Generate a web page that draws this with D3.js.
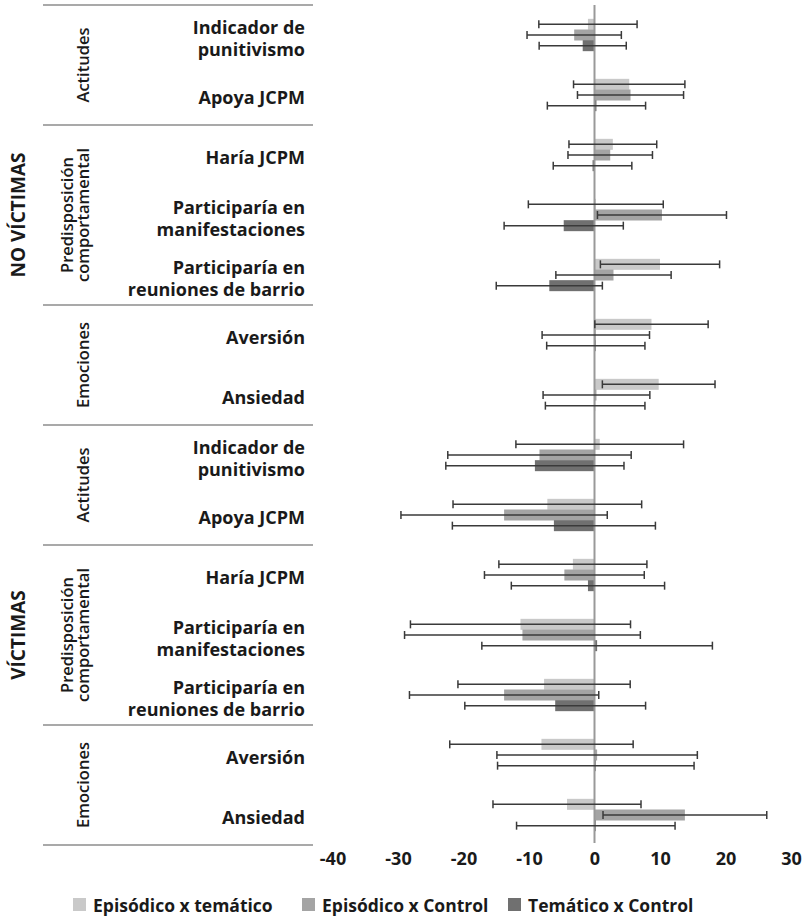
<!DOCTYPE html>
<html>
<head>
<meta charset="utf-8">
<script src="https://cdn.jsdelivr.net/npm/d3@7"></script>
<style>
  html, body { margin: 0; padding: 0; background: #fff; }
  svg { display: block; }
  text { font-family: "Open Sans", "Noto Sans", sans-serif; fill: #1a1a1a; }
</style>
</head>
<body>
<svg id="chart" width="812" height="921"></svg>
<script>
// ---------------- DATA ----------------
const sections = ["NO VÍCTIMAS", "VÍCTIMAS"];
const groups = [
  { name: ["Actitudes"], size: 2 },
  { name: ["Predisposición", "comportamental"], size: 3 },
  { name: ["Emociones"], size: 2 }
];
const itemLabels = [
  ["Indicador de", "punitivismo"],
  ["Apoya JCPM"],
  ["Haría JCPM"],
  ["Participaría en", "manifestaciones"],
  ["Participaría en", "reuniones de barrio"],
  ["Aversión"],
  ["Ansiedad"]
];
const seriesNames = ["Episódico x temático", "Episódico x Control", "Temático x Control"];

// order: NO VÍCTIMAS (7 items) then VÍCTIMAS (7 items)
const episodicoTematico      = [-1.0, 5.3, 2.8, 0.2, 10.0, 8.7, 9.8,   0.8, -7.2, -3.3, -11.3, -7.7, -8.1, -4.2];
const episodicoTematicoErr   = [ 7.5, 8.5, 6.7, 10.3, 9.1, 8.65, 8.6,  12.8, 14.4, 11.3, 16.8, 13.15, 14.0, 11.3];
const episodicoControl       = [-3.1, 5.5, 2.4, 10.3, 2.9, 0.2, 0.3,   -8.4, -13.8, -4.6, -11.0, -13.8, 0.4, 13.8];
const episodicoControlErr    = [ 7.2, 8.1, 6.45, 9.85, 8.8, 8.2, 8.15, 14.0, 15.75, 12.2, 18.0, 14.45, 15.3, 12.5];
const tematicoControl        = [-1.8, 0.3, -0.3, -4.7, -6.9, 0.2, 0.1,  -9.1, -6.2, -1.0, 0.4, -6.0, 0.2, 0.2];
const tematicoControlErr     = [ 6.65, 7.5, 6.0, 9.1, 8.1, 7.5, 7.6,   13.6, 15.5, 11.7, 17.6, 13.8, 15.0, 12.1];

const xTicks = [-40, -30, -20, -10, 0, 10, 20, 30];

// ---------------- BUILD ----------------
const seriesValues = [episodicoTematico, episodicoControl, tematicoControl];
const seriesErrs = [episodicoTematicoErr, episodicoControlErr, tematicoControlErr];
const colors = ["#c9c9c9", "#a4a4a4", "#707070"];
const FONT = '"Open Sans", "Noto Sans", sans-serif';

const rows = [];
sections.forEach((s, si) => {
  itemLabels.forEach((lab, li) => {
    rows.push({ id: si * 7 + li, label: lab, section: si });
  });
});

const svg = d3.select("#chart");

const y = d3.scaleBand().domain(rows.map(r => r.id)).range([5, 845]).padding(0);
const ySeries = d3.scaleBand().domain([0, 1, 2]).range([-16, 16]).padding(0);
const x = d3.scaleLinear().domain([-40, 30]).range([332.5, 791]);

const barH = 11;

// separators
const sepIdx = [];
let acc = 0;
sections.forEach(() => {
  groups.forEach(g => { sepIdx.push(acc); acc += g.size; });
});
sepIdx.push(acc);
svg.append("g").selectAll("line").data(sepIdx).join("line")
  .attr("x1", 43).attr("x2", 313)
  .attr("y1", d => d < rows.length ? y(d) : y(rows.length - 1) + y.bandwidth())
  .attr("y2", d => d < rows.length ? y(d) : y(rows.length - 1) + y.bandwidth())
  .attr("stroke", "#8c8c8c").attr("stroke-width", 1.6);

// item labels
const lab = svg.append("g");
rows.forEach(r => {
  const cy = y(r.id) + y.bandwidth() / 2;
  const n = r.label.length;
  const t = lab.append("text")
    .attr("x", 305)
    .attr("y", cy - (n - 1) * 11 + (n > 1 ? 3 : 2))
    .attr("text-anchor", "end")
    .attr("dominant-baseline", "central")
    .attr("font-size", 18)
    .attr("font-weight", 700);
  r.label.forEach((line, i) => {
    t.append("tspan").attr("x", 305).attr("dy", i === 0 ? 0 : 22).text(line);
  });
});

// group labels and section labels
const gl = svg.append("g");
sections.forEach((s, si) => {
  let start = si * 7;
  groups.forEach((g, gi) => {
    const top = y(start);
    const bottom = y(start + g.size - 1) + y.bandwidth();
    const cy = (top + bottom) / 2;
    const n = g.name.length;
    g.name.forEach((line, i) => {
      const cx = 82 - (n - 1 - i) * 16;
      gl.append("text")
        .attr("transform", `translate(${cx},${cy}) rotate(-90)`)
        .attr("text-anchor", "middle")
        .attr("dominant-baseline", "central")
        .attr("font-size", 16.5)
        .attr("font-weight", 600)
        .text(line);
    });
    if (gi === 1) {
      gl.append("text")
        .attr("transform", `translate(18,${cy}) rotate(-90)`)
        .attr("text-anchor", "middle")
        .attr("dominant-baseline", "central")
        .attr("font-size", 19)
        .attr("font-weight", 700)
        .text(s);
    }
    start += g.size;
  });
});

// bars
const plot = svg.append("g");
seriesValues.forEach((vals, si) => {
  plot.append("g").selectAll("rect").data(rows).join("rect")
    .attr("x", d => Math.min(x(0), x(vals[d.id])))
    .attr("width", d => Math.abs(x(vals[d.id]) - x(0)))
    .attr("y", d => y(d.id) + y.bandwidth() / 2 + ySeries(si) + ySeries.bandwidth() / 2 - barH / 2)
    .attr("height", barH)
    .attr("fill", colors[si]);
});

// zero line
plot.append("line")
  .attr("x1", x(0)).attr("x2", x(0))
  .attr("y1", 5).attr("y2", 843)
  .attr("stroke", "#999").attr("stroke-width", 2);

// error bars
seriesValues.forEach((vals, si) => {
  const errs = seriesErrs[si];
  const g = plot.append("g").attr("stroke", "#3a3a3a").attr("stroke-width", 1.5).attr("fill", "none");
  rows.forEach(d => {
    const cy = y(d.id) + y.bandwidth() / 2 + ySeries(si) + ySeries.bandwidth() / 2;
    const lo = x(vals[d.id] - errs[d.id]);
    const hi = x(vals[d.id] + errs[d.id]);
    g.append("line").attr("x1", lo).attr("x2", hi).attr("y1", cy).attr("y2", cy);
    g.append("line").attr("x1", lo).attr("x2", lo).attr("y1", cy - 4).attr("y2", cy + 4);
    g.append("line").attr("x1", hi).attr("x2", hi).attr("y1", cy - 4).attr("y2", cy + 4);
  });
});

// x axis
const axis = svg.append("g")
  .attr("transform", "translate(0,852)")
  .call(d3.axisBottom(x).tickValues(xTicks).tickSize(0).tickPadding(0).tickFormat(d => String(d)));
axis.select(".domain").remove();
axis.selectAll("text")
  .attr("font-size", 18)
  .attr("font-weight", 700)
  .attr("dy", "0.72em")
  .attr("fill", "#1a1a1a")
  .style("font-family", FONT);

// legend
const legendX = [73, 302, 508];
const legend = svg.append("g").attr("transform", "translate(0,905)");
seriesNames.forEach((name, i) => {
  const g = legend.append("g").attr("transform", `translate(${legendX[i]},0)`);
  g.append("rect").attr("x", 0).attr("y", -7).attr("width", 13).attr("height", 13).attr("fill", colors[i]);
  g.append("text").attr("x", 20).attr("y", 0)
    .attr("dominant-baseline", "central")
    .attr("font-size", 17.5)
    .attr("font-weight", 700)
    .text(name);
});
</script>
</body>
</html>
